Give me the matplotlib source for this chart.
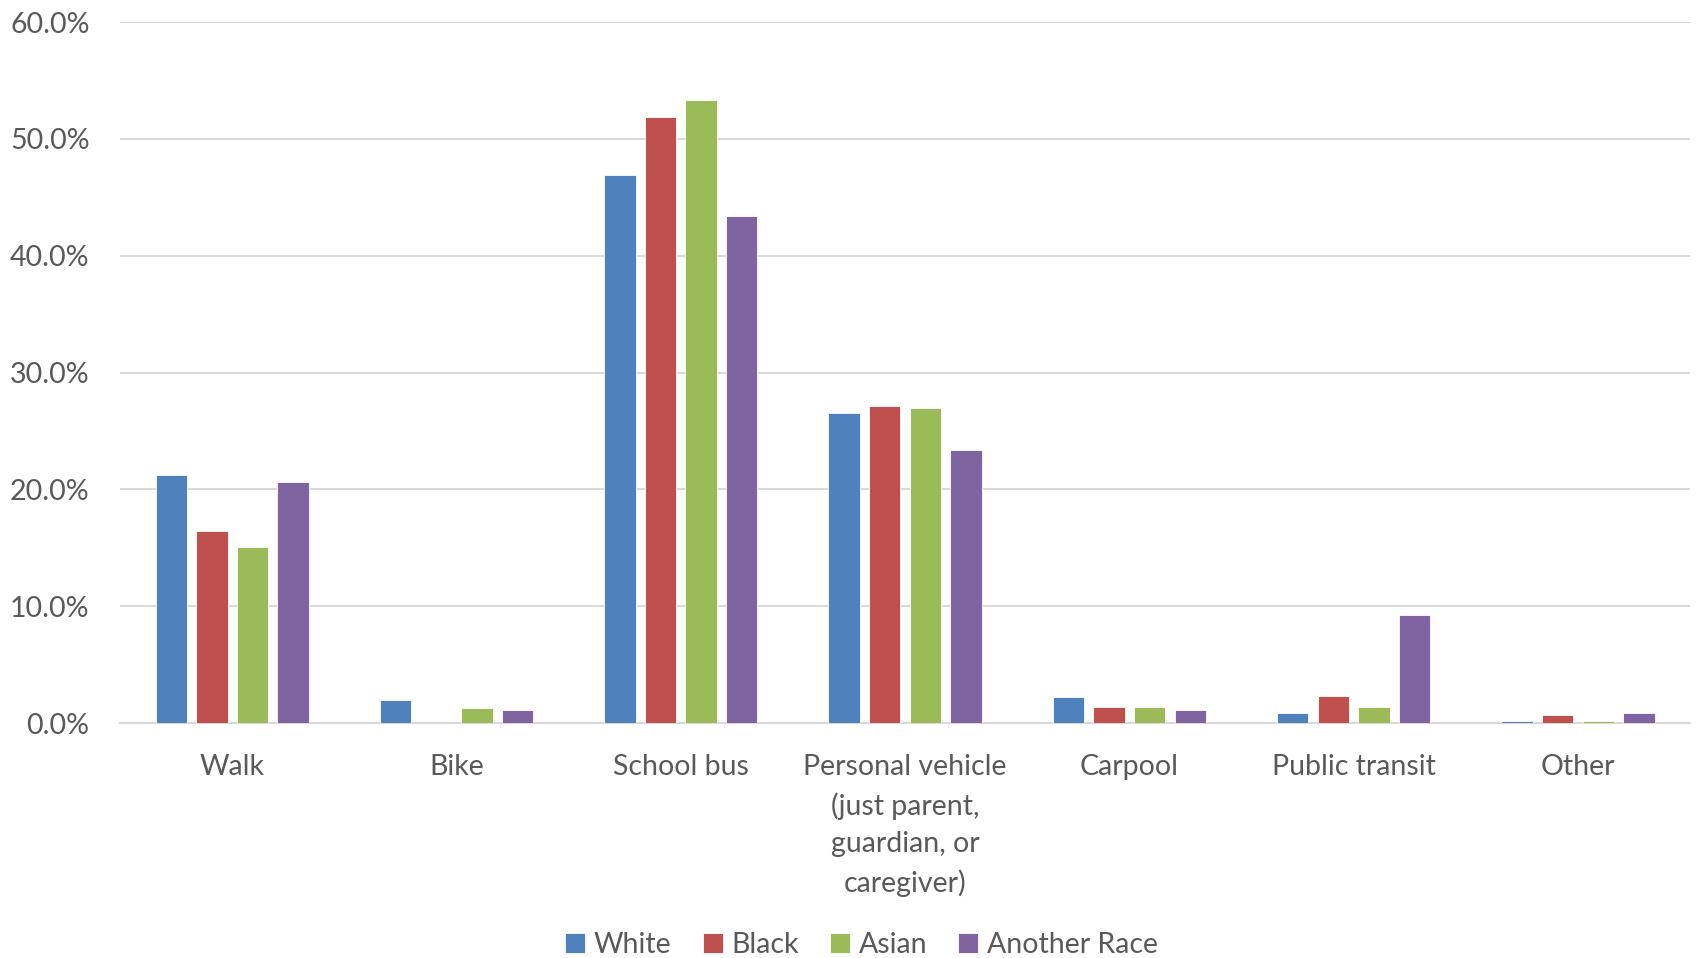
import matplotlib
matplotlib.use("Agg")
import matplotlib.pyplot as plt
import numpy as np
from matplotlib.ticker import FuncFormatter

categories = ["Walk", "Bike", "School bus",
              "Personal vehicle\n(just parent,\nguardian, or\ncaregiver)",
              "Carpool", "Public transit", "Other"]
series_names = ["White", "Black", "Asian", "Another Race"]
white = [21.2, 2.0, 46.9, 26.5, 2.2, 0.85, 0.15]
black = [16.45, 0.0, 51.9, 27.1, 1.35, 2.35, 0.7]
asian = [15.1, 1.3, 53.3, 27.0, 1.35, 1.35, 0.15]
another = [20.6, 1.15, 43.4, 23.4, 1.15, 9.25, 0.85]
colors = ["#4F81BD", "#C0504D", "#9BBB59", "#8064A2"]
yticks = [0, 10, 20, 30, 40, 50, 60]

plt.rcParams['font.family'] = ['Lato', 'DejaVu Sans']
text_color = "#595959"

fig = plt.figure(figsize=(16.96, 9.58), dpi=100)
ax = fig.add_axes([0.0708, 0.2453, 0.9257, 0.7317])

x = np.arange(len(categories))
width = 0.14
pitch = 0.181
data = [white, black, asian, another]
for i, (vals, name, c) in enumerate(zip(data, series_names, colors)):
    ax.bar(x + (i - 1.5) * pitch, vals, width, color=c, label=name,
           edgecolor="white", linewidth=0.6, zorder=3)

ax.set_xlim(-0.5, len(categories) - 0.5)
ax.set_ylim(0, 60)
ax.set_yticks(yticks)
ax.yaxis.set_major_formatter(FuncFormatter(lambda v, p: f"{v:.1f}%"))
ax.grid(axis="y", color="#D9D9D9", linewidth=1.5, zorder=0)
for s in ["top", "right", "left"]:
    ax.spines[s].set_visible(False)
ax.spines["bottom"].set_color("#D9D9D9")
ax.spines["bottom"].set_linewidth(1.5)
ax.tick_params(axis="y", length=0, pad=22, labelsize=20.5, labelcolor=text_color)
ax.tick_params(axis="x", length=0, pad=22, labelsize=20.5, labelcolor=text_color)
ax.set_xticks(x)
ax.set_xticklabels(categories, linespacing=1.55, va="top")

leg = fig.legend(loc="center", bbox_to_anchor=(0.508, 0.014), ncol=4,
                 frameon=False, fontsize=20.5, handlelength=0.7, handleheight=0.7,
                 handletextpad=0.3, columnspacing=1.1, labelcolor=text_color)

fig.savefig("out.png", dpi=100)
